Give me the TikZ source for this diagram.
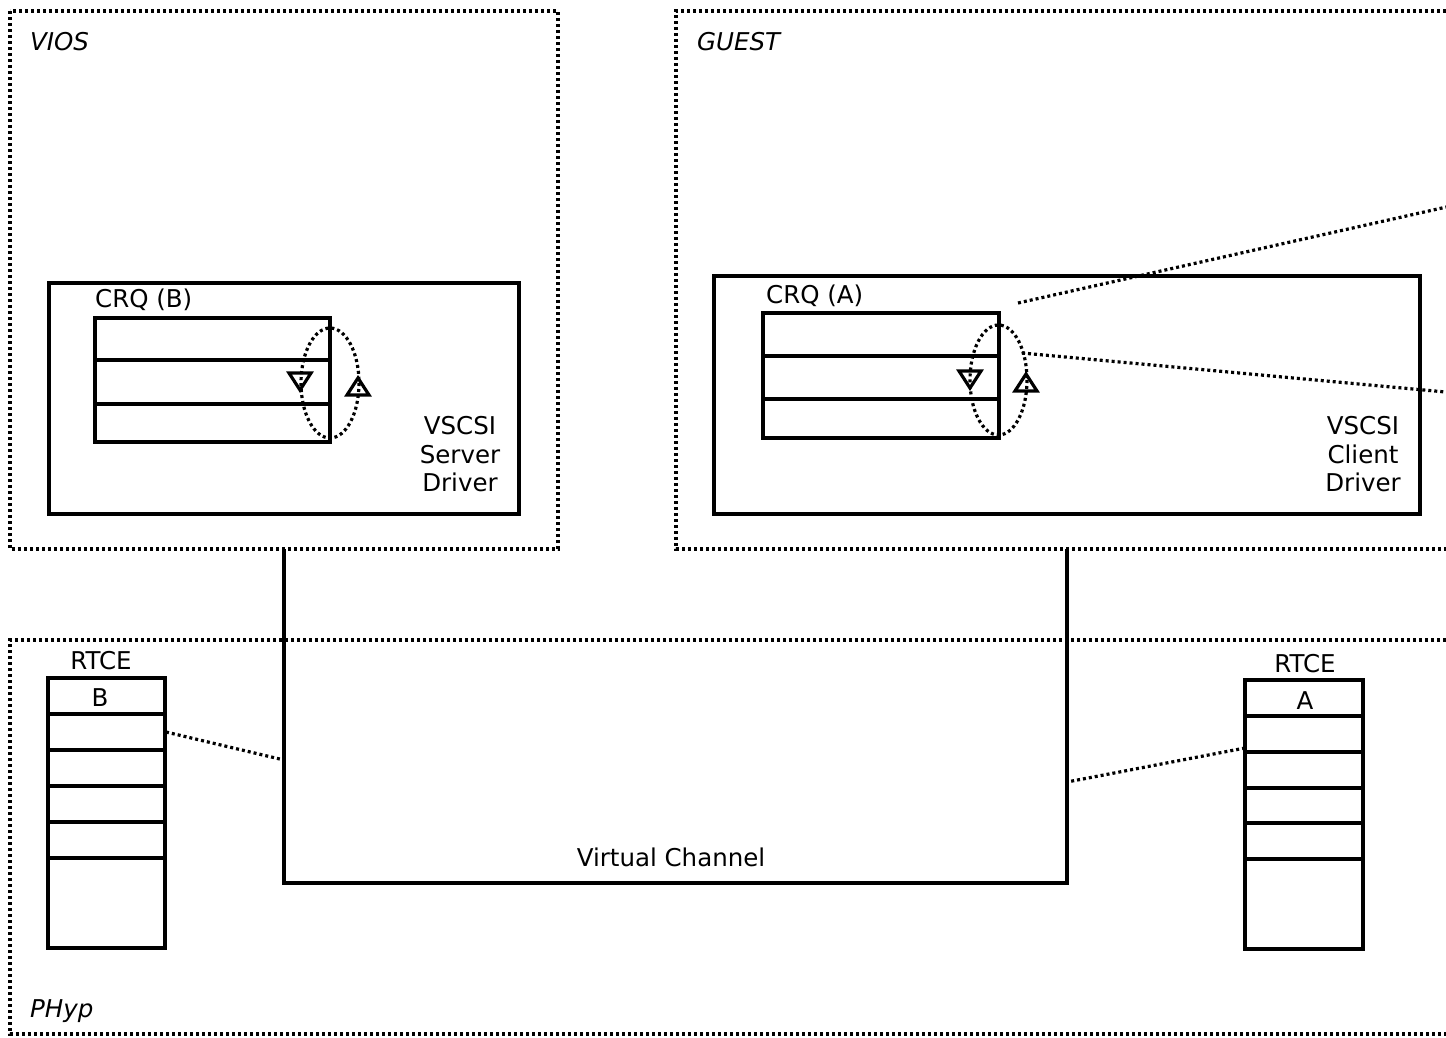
\documentclass[tikz,border=0pt]{standalone}
\usepackage{fontspec}
\setmainfont{DejaVu Sans}
\begin{document}
\begin{tikzpicture}[x=1pt,y=-1pt,
  solidln/.style={line width=3.3pt},
  dotln/.style={line width=3.2pt,dash pattern=on 3pt off 3pt},
  lbl/.style={inner sep=0pt,font=\fontsize{24.5}{28.5}\selectfont},
  ilbl/.style={inner sep=0pt,anchor=base west,font=\fontsize{24.5}{28.5}\selectfont\itshape},
  tri/.style={line width=3.2pt,line join=miter}]
\useasboundingbox (0,0) rectangle (1446,1037);
\clip (0,0) rectangle (1446,1037);
\fill[white] (0,0) rectangle (1446,1037);

% outer dotted areas
\draw[dotln] (10,11) rectangle (558,549);
\draw[dotln] (1470,11) -- (676,11) -- (676,549) -- (1470,549);
\draw[dotln] (1470,640) -- (10,640) -- (10,1034) -- (1470,1034);
\node[ilbl] (vios) at (30,50) {VIOS};
\node[ilbl] (guest) at (697,50) {GUEST};
\node[ilbl] (phyp) at (30,1017) {PHyp};

% VIOS driver box
\draw[solidln] (49,283) rectangle (519,514);
\node[lbl,anchor=base west] (crqb) at (95,307) {CRQ (B)};
\draw[solidln] (95,318) rectangle (330,442);
\draw[solidln] (95,360) -- (330,360);
\draw[solidln] (95,404) -- (330,404);
\draw[dotln] (330,383) ellipse [x radius=29, y radius=55];
\draw[tri] (289,373) -- (311,373) -- (300,390) -- cycle;
\draw[tri] (347,395) -- (369,395) -- (358,378) -- cycle;
\node[lbl,align=center] (srv) at (460,454.5) {VSCSI\\Server\\Driver};

% GUEST driver box
\draw[solidln] (714,276) rectangle (1420,514);
\node[lbl,anchor=base west] (crqa) at (766,303) {CRQ (A)};
\draw[solidln] (763,313) rectangle (999,438);
\draw[solidln] (763,356) -- (999,356);
\draw[solidln] (763,399) -- (999,399);
\draw[dotln] (998.5,380) ellipse [x radius=28.5, y radius=55];
\draw[tri] (959,371) -- (981,371) -- (970,388) -- cycle;
\draw[tri] (1015,391) -- (1037,391) -- (1026,374) -- cycle;
\node[lbl,align=center] (cli) at (1363,454.5) {VSCSI\\Client\\Driver};

\coordinate (qa1) at (1018,303);
\coordinate (qa1far) at (1500,195);
\coordinate (qa2) at (1022,353);
\coordinate (qa2far) at (1500,397);
\draw[dotln] (qa1) -- (qa1far);
\draw[dotln] (qa2) -- (qa2far);

% virtual channel
\coordinate (vtop1) at (284,549);
\coordinate (vbot1) at (284,883);
\coordinate (vbot2) at (1067,883);
\coordinate (vtop2) at (1067,549);
\draw[solidln,line join=miter] (vtop1) -- (vbot1) -- (vbot2) -- (vtop2);
\node[lbl,anchor=base] (vc) at (671,866) {Virtual Channel};

% RTCE B
\node[lbl] (rtceb) at (101,661) {RTCE};
\draw[solidln] (48,678) rectangle (165,948);
\foreach \yy in {714,750,786,822,858} \draw[solidln] (48,\yy) -- (165,\yy);
\node[lbl] (bb) at (100,698) {B};
\coordinate (rb) at (166,732);
\coordinate (vb) at (284,760);
\draw[dotln] (rb) -- (vb);

% RTCE A
\node[lbl] (rtcea) at (1305,664) {RTCE};
\draw[solidln] (1245,680) rectangle (1363,949);
\foreach \yy in {716,752,788,823,859} \draw[solidln] (1245,\yy) -- (1363,\yy);
\node[lbl] (aa) at (1305,701) {A};
\coordinate (ra) at (1245,748);
\coordinate (va) at (1067,782);
\draw[dotln] (ra) -- (va);
\end{tikzpicture}
\end{document}
